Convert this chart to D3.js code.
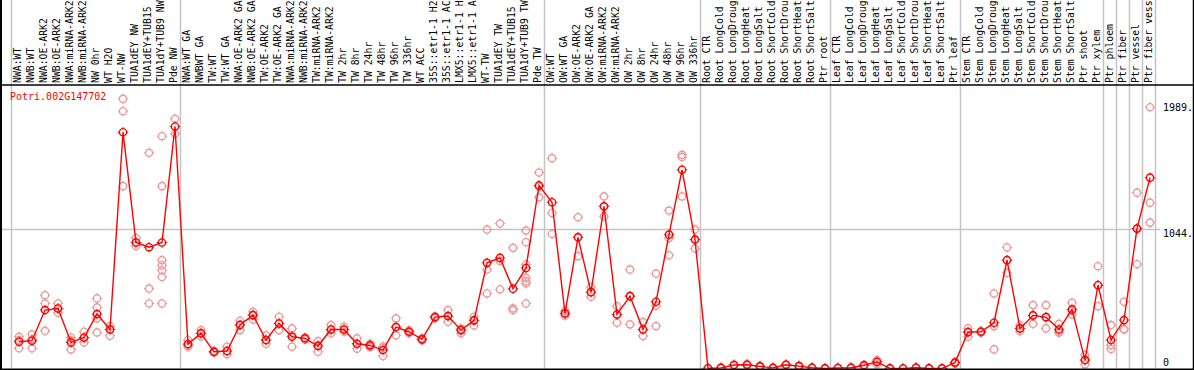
<!DOCTYPE html>
<html><head><meta charset="utf-8">
<script src="https://cdn.jsdelivr.net/npm/d3@7"></script>
<style>
body{margin:0;background:#fff;}
svg{display:block;}
text{font-family:"DejaVu Sans Mono",monospace;font-size:10px;}
</style>
</head><body>
<svg id="c" width="1194" height="370"></svg>
<script>
const categories = [
 "NWA:WT","NWB:WT","NWA:OE-ARK2","NWB:OE-ARK2","NWA:miRNA-ARK2","NWB:miRNA-ARK2","NW 0hr","WT H2O","WT-NW","TUA1dEY NW","TUA1dEY+TUB15 NW","TUA1dY+TUB9 NW","Pde NW",
 "NWA:WT GA","NWBWT GA","TW:WT","TW:WT GA","NWA:OE-ARK2 GA","NWB:OE-ARK2 GA","TW:OE-ARK2","TW:OE-ARK2 GA","NWA:miRNA-ARK2 GA","NWB:miRNA-ARK2 GA","TW:miRNA-ARK2","TW:miRNA-ARK2 GA","TW 2hr","TW 8hr","TW 24hr","TW 48hr","TW 96hr","TW 336hr","WT ACC","35S::etr1-1 H2O","35S::etr1-1 ACC","LMX5::etr1-1 H2O","LMX5::etr1-1 ACC","WT-TW","TUA1dEY TW","TUA1dEY+TUB15 TW","TUA1dY+TUB9 TW","Pde TW",
 "OW:WT","OW:WT GA","OW:OE-ARK2","OW:OE-ARK2 GA","OW:miRNA-ARK2","OW:miRNA-ARK2 GA","OW 2hr","OW 8hr","OW 24hr","OW 48hr","OW 96hr","OW 336hr",
 "Root CTR","Root LongCold","Root LongDrought","Root LongHeat","Root LongSalt","Root ShortCold","Root ShortDrought","Root ShortHeat","Root ShortSalt","Ptr root",
 "Leaf CTR","Leaf LongCold","Leaf LongDrought","Leaf LongHeat","Leaf LongSalt","Leaf ShortCold","Leaf ShortDrought","Leaf ShortHeat","Leaf ShortSalt","Ptr leaf",
 "Stem CTR","Stem LongCold","Stem LongDrought","Stem LongHeat","Stem LongSalt","Stem ShortCold","Stem ShortDrought","Stem ShortHeat","Stem ShortSalt","Ptr shoot","Ptr xylem",
 "Ptr phloem","Ptr fiber","Ptr vessel","Ptr fiber vessel"
];
const means = [
 200,208,437,449,195,232,407,292,1767,942,907,942,1810,
 183,263,125,131,325,399,213,337,237,225,168,292,292,185,173,138,310,275,218,384,392,287,360,790,827,596,752,1369,
 1243,412,981,571,1213,404,541,292,499,1001,1486,964,
 2,5,26,28,16,5,28,18,6,1,
 4,6,24,49,1,0,6,1,1,44,
 272,275,342,810,300,397,384,292,442,63,623,
 213,362,1046,1427
];
const replicates = [
 [237,212,151],[255,218,151],[548,486,282],[486,449,417],[232,210,143],[275,226,195],[524,457,375,270],[317,292,245],[2016,1924,1364],[976,942,917],[1613,598,486],[1737,1364,810,772,735,685,486],[1867,1755],
 [213,175,163],[287,263,240],[130,120,125],[163,131,106],[357,330,287],[424,399,367],[248,213,185],[387,337,287],[300,248,163],[232,225,218],[205,175,125],[325,288,263],[312,290,275],[225,185,148],[185,173,160],[155,165,93],[375,310,248],[285,275,265],[225,218,211],[390,384,378],[437,392,349],[298,287,263],[387,360,322],[1039,740,561],[1084,805,591],[902,450,437],[1031,944,778,678,653,636,486],[1466,1360,1280],
 [1573,1163,1006],[430,412,395],[1131,981,840],[608,571,536],[1287,1213,1138],[466,404,342],[740,541,330],[347,292,243],[710,470,317],[1181,975,847],[1598,1581,1287],[1039,964,897],
 [3,1],[8,2],[30,22],[33,24],[20,12],[7,3],[32,24],[22,14],[9,3],[2,0],
 [6,2],[9,3],[28,20],[63,52,31],[2,0],[1,0],[9,3],[2,0],[2,0],[50,38],
 [300,272,237],[280,275,270],[561,317,143],[905,810,715],[322,300,278],[474,397,334],[474,384,300],[334,275,267],[491,430,404],[101,63,31],[765,623,466],
 [325,175,146],[499,295,292],[1315,1046,780],[1954,1240,1091]
];
const groupStarts = [0,13,41,53,63,73,84,85,86,87,88];
const tickValues = [0,1044,1989];
const tickLabels = ["0","1044.","1989."];
const gridValues = [1044];
const geneId = "Potri.002G147702";

const W = 1194, H = 370;
const svg = d3.select("#c");
const idx = d3.range(categories.length);
const x = d3.scalePoint().domain(idx).range([19, 19 + 13 * (categories.length - 1)]);
const band = d3.scaleBand().domain(idx).range([11.5, 11.5 + 13 * categories.length]).padding(0);
const y = d3.scaleLinear().domain([0, 1989]).range([368.5, 102.5]);
const bandEdge = i => i < categories.length ? band(i) : band.range()[1];

const grey = "#c4c4c4", red = "#ff0000", pink = "#eb9a9a";
// header area holds 14 monospace characters
const maxChars = 14;
const headerLabel = s => s.length > maxChars ? s.slice(0, maxChars).trimEnd() : s;

// group separator lines
svg.append("g").selectAll("line").data(groupStarts).join("line")
  .attr("x1", d => bandEdge(d)).attr("x2", d => bandEdge(d))
  .attr("y1", 0).attr("y2", H)
  .attr("stroke", grey).attr("stroke-width", 1.5);

// horizontal gridline
svg.append("g").selectAll("line").data(gridValues).join("line")
  .attr("x1", 0).attr("x2", 1160)
  .attr("y1", d => Math.round(y(d)) + 0.5).attr("y2", d => Math.round(y(d)) + 0.5)
  .attr("stroke", grey).attr("stroke-width", 1.5);

// header labels
svg.append("g").selectAll("text").data(idx).join("text")
  .attr("transform", i => `translate(${x(i) + 2},83) rotate(-90)`)
  .attr("fill", "#000")
  .style("font-size", "9.8px")
  .text(i => headerLabel(categories[i]))
  .append("title").text(i => categories[i]);

// tick marks around circles
function gear(sel, r, col) {
  sel.append("path")
    .attr("d", `M0,${-r-1.6}V${-r}M0,${r}V${r+1.6}M${-r-1.6},0H${-r}M${r},0H${r+1.6}`)
    .attr("stroke", col).attr("stroke-width", 1).attr("fill", "none");
  sel.append("circle").attr("r", r).attr("fill", "none").attr("stroke", col).attr("stroke-width", 1.4);
}

// replicate points
const repData = [];
replicates.forEach((arr, i) => arr.forEach(v => repData.push({i, v})));
svg.append("g").selectAll("g").data(repData).join("g")
  .attr("transform", d => `translate(${x(d.i)},${y(d.v)})`)
  .call(gear, 3.6, pink);

// mean line
svg.append("path").datum(means)
  .attr("d", d3.line().x((d, i) => x(i)).y(d => y(d)))
  .attr("fill", "none").attr("stroke", red).attr("stroke-width", 1.4);

// mean points
svg.append("g").selectAll("g").data(means).join("g")
  .attr("transform", (d, i) => `translate(${x(i)},${y(d)})`)
  .call(gear, 3.6, red);

// frame
svg.append("line").attr("x1", 0).attr("x2", W).attr("y1", 85).attr("y2", 85).attr("stroke", "#000").attr("stroke-width", 1.5);
svg.append("line").attr("x1", 0).attr("x2", W).attr("y1", 369.5).attr("y2", 369.5).attr("stroke", "#000").attr("stroke-width", 2);
svg.append("line").attr("x1", 1).attr("x2", 1).attr("y1", 0).attr("y2", H).attr("stroke", "#000").attr("stroke-width", 2);
svg.append("line").attr("x1", 1193.5).attr("x2", 1193.5).attr("y1", 0).attr("y2", H).attr("stroke", "#000").attr("stroke-width", 1.5);

// right axis labels
svg.append("g").selectAll("text").data(tickValues).join("text")
  .attr("x", 1163)
  .attr("y", d => Math.min(y(d) + 8, 365.5))
  .attr("fill", "#000")
  .text((d, k) => tickLabels[k]);

// title
svg.append("text").attr("x", 10).attr("y", 100).attr("fill", red).text(geneId);
</script>
</body></html>
